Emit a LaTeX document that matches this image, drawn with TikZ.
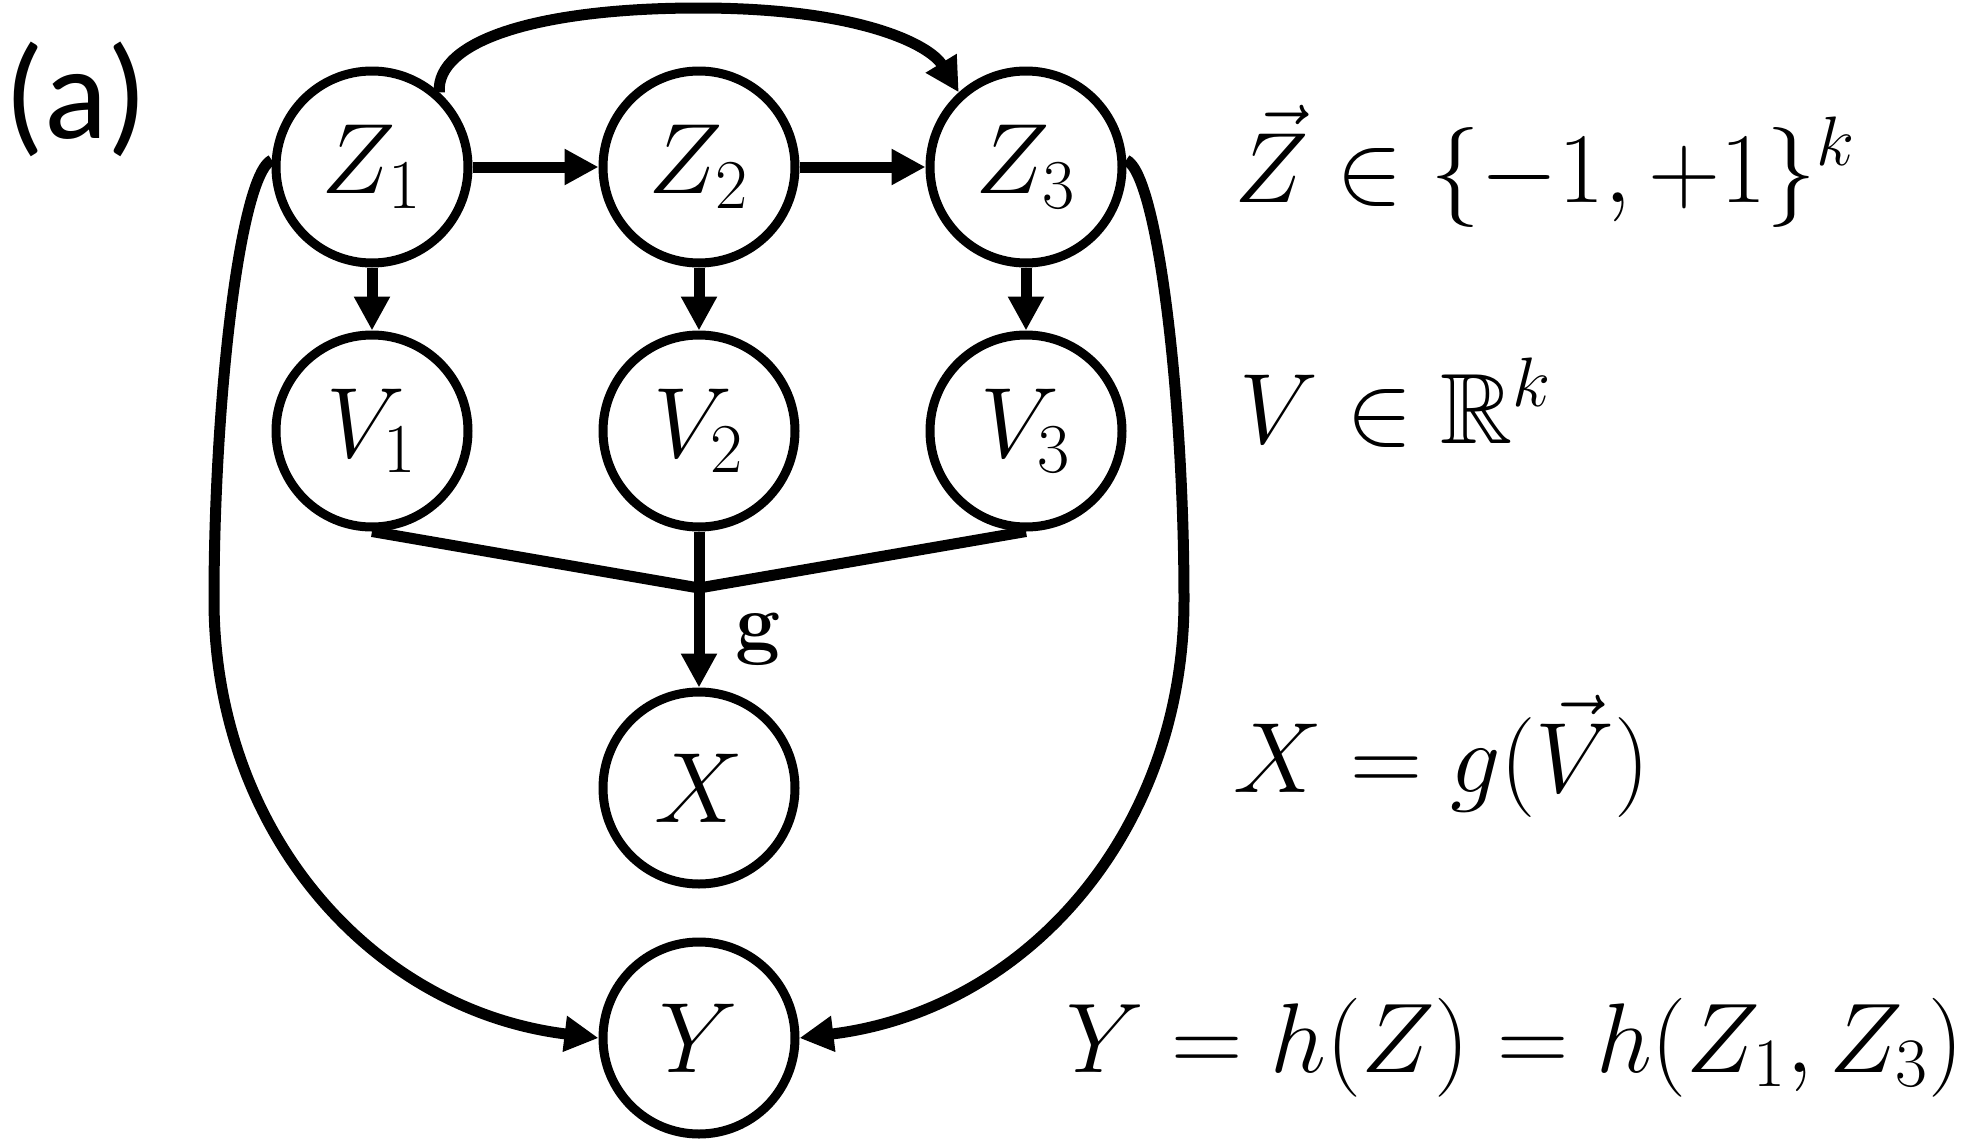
\RequirePackage{fix-cm}
\documentclass[tikz,border=0pt]{standalone}
\usepackage{amssymb}
\usepackage{fontspec}
\newfontfamily\labelfont{Carlito}
\usetikzlibrary{arrows.meta}
\begin{document}
\begin{tikzpicture}[x=0.5pt,y=-0.5pt,
  var/.style={circle,draw,line width=4.5pt,minimum size=96pt,inner sep=0pt,font=\fontsize{50}{60}\selectfont},
  conn/.style={line width=5.5pt,-{Triangle[length=17pt,width=17pt]}},
  plainline/.style={line width=5.5pt},
  eq/.style={anchor=base west,inner sep=0pt,font=\fontsize{50}{60}\selectfont}]
\useasboundingbox (0,0) rectangle (1972,1146);

\node[var] (Z1) at (372,167) {$Z_1$};
\node[var] (Z2) at (699,167) {$Z_2$};
\node[var] (Z3) at (1026,167) {$Z_3$};
\node[var] (V1) at (372,431) {$V_1$};
\node[var] (V2) at (699,431) {$V_2$};
\node[var] (V3) at (1026,431) {$V_3$};
\node[var] (X) at (699,788) {$X$};
\node[var] (Y) at (699,1038) {$Y$};

\draw[conn] (Z1) -- (Z2);
\draw[conn] (Z2) -- (Z3);
\draw[conn] (Z1) -- (V1);
\draw[conn] (Z2) -- (V2);
\draw[conn] (Z3) -- (V3);

\coordinate (J) at (699,588);
\draw[plainline,line join=miter] (V1.south) -- (J) -- (V3.south);
\draw[plainline] (V2.south) -- (J);
\draw[conn] (J) -- (X);
\node[font=\fontsize{40}{44}\selectfont\bfseries] (glab) at (758,639) {g};

\draw[conn] (Z1.48) .. controls (436,40) and (540,8) .. (699,8)
  .. controls (860,8) and (930,45) .. (Z3.132);
\draw[conn] (Z1.176) .. controls (240,175) and (214,400) .. (214,600)
  .. controls (214,830) and (370,1010) .. (Y.west);
\draw[conn] (Z3.4) .. controls (1158,175) and (1184,400) .. (1184,600)
  .. controls (1184,830) and (1028,1010) .. (Y.east);

\node[eq] (tz) at (1234,202) {$\vec{Z}\in\{-1,+1\}^k$};
\node[eq] (tv) at (1239,443) {$V\in\mathbb{R}^k$};
\node[eq] (tx) at (1233,792) {$X=g(\vec{V})$};
\node[eq,font=\fontsize{49.5}{58}\selectfont] (ty) at (1066,1072) {$Y=h(Z)=h(Z_1,Z_3)$};

\node[font=\labelfont\fontsize{66}{72}\selectfont,anchor=base west,inner sep=0pt] (lbl) at (4,138) {(a)};
\end{tikzpicture}
\end{document}
